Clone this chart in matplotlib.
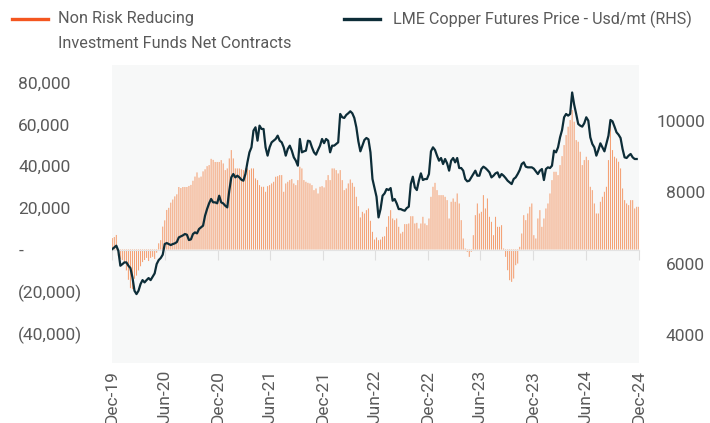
import numpy as np
import pandas as pd
import matplotlib
matplotlib.use("Agg")
import matplotlib.pyplot as plt
from matplotlib.lines import Line2D
from matplotlib.ticker import FuncFormatter

plt.rcParams['font.family'] = ['Roboto', 'DejaVu Sans']

# Non risk reducing investment funds net contracts (weekly, from Dec-19)
net_contracts = [
    5500, 6000, 7000, -3000, -4500, -5000, -6500, -10000, -14500, -18500,
    -19000, -14000, -12500, -10000, -8000, -6000, -5000, -4000, -5500, -4000,
    -3500, -4500, -1500, 3000, 4500, 11000, 14000, 19000, 20000, 22500,
    24000, 25500, 26500, 30000, 29500, 30000, 30000, 30000, 30500, 31000,
    33000, 35000, 37000, 34500, 35000, 37500, 38500, 40000, 40500, 43500,
    43000, 42000, 42000,
    42000, 42900, 41300, 38100, 38900, 43700, 47700, 43700, 38900, 38900,
    38900, 38500, 38100, 38900, 38900, 38100, 38900, 38900, 34100, 33300,
    30900, 30100, 30100, 27700, 30400, 30900, 31700, 32500, 34900, 35200,
    35700, 35700, 27700, 31700, 32500, 33300, 33800, 31700, 30900, 33300,
    39700, 38900, 33300, 32500, 32000, 31700, 30900, 28500, 29300, 26900,
    30100,
    30400, 29800, 33300, 35700, 33300, 38900, 38900, 38100, 36500, 38100,
    33300, 28500, 29300, 31700, 33600, 32000, 30100, 25300, 20800, 15400,
    18100, 17300, 18900, 19700, 13800, 8500, 4800, 5800, 4500, 4800,
    6100, 6400, 10900, 16000, 18900, 14900, 14100, 14900, 10900, 7700,
    8500, 12200, 12200, 12500, 16000, 16000, 12500, 12800, 10100, 12500,
    15700, 12500,
    11700, 14900, 25300, 30100, 32000, 28500, 26100, 26100, 26100, 25300,
    23700, 14900, 22900, 24500, 22900, 26900, 22100, 14100, 5300, 500,
    -1100, -3500, -1100, 6900, 16500, 22100, 17300, 18100, 26100, 19700,
    24500, 15700, 13300, 6900, 15700, 10900, 10900, 11700, 500, -3500,
    -9900, -14700, -15500, -13900, -7500, -6700, 1300, 7700, 16500, 14100,
    17300, 20500,
    22100, 6900, 5300, 14900, 18900, 10900, 14900, 19700, 22100, 26900,
    33300, 37300, 37300, 35700, 40500, 44800, 50100, 54900, 58900, 62100,
    66900, 61300, 52500, 51700, 46900, 40500, 42900, 44500, 42900, 30100,
    28500, 22100, 17300, 17300, 22900, 25300, 27700, 30100, 42900, 60500,
    47700, 44500, 43700, 42100, 38900, 29300, 23700, 22100, 21300, 23700,
    23700, 19700, 20500, 20500,
]

# LME copper futures price, Usd/mt (weekly)
copper_price = [
    6412, 6459, 6506, 6366, 5945, 5990, 6039, 6039, 5945, 5880,
    5618, 5244, 5151, 5244, 5431, 5543, 5478, 5543, 5600, 5543,
    5637, 5730, 5992, 6104, 6160, 6254, 6553, 6581, 6553, 6525,
    6553, 6572, 6609, 6740, 6768, 6796, 6834, 6815, 6665, 6684,
    6834, 6880, 6852, 6974, 7021, 7068, 7348, 7535, 7694, 7816,
    7722, 7722, 7694,
    7907, 7720, 7692, 7627, 7580, 8047, 8421, 8515, 8421, 8468,
    8421, 8356, 8328, 8515, 8842, 9123, 9263, 9731, 9824, 9450,
    9871, 9778, 9778, 9263, 9030, 9263, 9403, 9450, 9497, 9590,
    9450, 9403, 9263, 9030, 9216, 9310, 9170, 8983, 8889, 8749,
    9497, 9123, 9151, 9170, 9450, 9431, 9263, 9123, 9058, 9189,
    9310,
    9497, 9380, 9497, 9450, 9123, 9310, 9310, 9357, 9403, 10198,
    10105, 10086, 10170, 10217, 10273, 10217, 10086, 9824, 9431, 9151,
    9310, 9469, 9525, 9487, 9123, 8375, 8122, 7879, 7300, 7533,
    7907, 7972, 8094, 8066, 8122, 7767, 7814, 7692, 7533, 7533,
    7505, 7487, 7561, 7599, 8234, 8440, 8141, 8066, 8328, 8534,
    8347, 8375,
    8375, 8515, 9151, 9263, 9189, 9030, 8889, 8964, 8795, 8936,
    8814, 8609, 8889, 8964, 8842, 8964, 8683, 8683, 8609, 8375,
    8310, 8328, 8421, 8515, 8609, 8468, 8468, 8655, 8721, 8683,
    8627, 8562, 8421, 8468, 8534, 8562, 8421, 8515, 8468, 8403,
    8328, 8281, 8234, 8375, 8421, 8515, 8627, 8795, 8842, 8721,
    8702, 8702,
    8702, 8665, 8590, 8515, 8609, 8655, 8347, 8655, 8702, 8683,
    8749, 9170, 9123, 9263, 9544, 9749, 10105, 10198, 10151, 10198,
    10800, 10460, 10198, 9918, 9871, 9843, 9937, 10105, 10011, 9544,
    9357, 9263, 9030, 9189, 9375, 9263, 9151, 9375, 9590, 10030,
    9992, 9843, 9684, 9618, 9525, 9216, 8983, 8964, 9030, 9077,
    8983, 8936, 8936,
]

weeks = pd.date_range('2019-12-31', periods=len(net_contracts), freq='7D')
price_weeks = weeks[:len(copper_price)]
tick_dates = pd.date_range('2019-12-31', '2024-12-31', freq='6ME')
tick_labels = [d.strftime('%b-%y') for d in tick_dates]

orange = '#f4561f'
bar_col = '#f4a073'
navy = '#0d2d38'
grey_txt = '#5a5a5a'

fig = plt.figure(figsize=(7.1, 4.23), dpi=100)
ax = fig.add_axes([112/710, 1-363/423, 527/710, 298/423])
ax.set_facecolor('#f7f8f8')

ax.bar(weeks, net_contracts, width=3.6, color=bar_col, linewidth=0,
       snap=False, antialiased=True)
ax.set_ylim(-54400, 88500)
ax.set_yticks([-40000, -20000, 0, 20000, 40000, 60000, 80000])

def fmt(v, pos):
    if v == 0:
        return '-'
    if v < 0:
        return '({:,.0f})'.format(abs(v))
    return '{:,.0f}'.format(v)
ax.yaxis.set_major_formatter(FuncFormatter(fmt))
ax.tick_params(axis='y', length=0, pad=67.5, labelsize=12.5, labelcolor=grey_txt)
for t in ax.get_yticklabels():
    t.set_ha('left')

for s in ['top', 'left', 'right']:
    ax.spines[s].set_visible(False)
ax.spines['bottom'].set_position(('data', 0))
ax.spines['bottom'].set_color('#e3e3e3')
ax.set_xticks(tick_dates)
ax.tick_params(axis='x', direction='out', length=7, color='#dedede',
               labelbottom=False)
ax.set_xlim(pd.Timestamp('2019-12-30'), pd.Timestamp('2025-01-01'))

sec = ax.secondary_xaxis('bottom')
sec.set_xticks(tick_dates, tick_labels)
sec.tick_params(length=0, pad=5, labelsize=12.5, labelcolor=grey_txt,
                labelrotation=90)
sec.spines['bottom'].set_visible(False)

ax2 = ax.twinx()
ax2.plot(price_weeks, copper_price, color=navy, lw=1.6)
ax2.set_ylim(3220, 11570)
ax2.set_yticks([4000, 6000, 8000, 10000])
ax2.tick_params(axis='y', length=0, pad=47.5, labelsize=12.5, labelcolor=grey_txt)
for t in ax2.get_yticklabels():
    t.set_ha('right')
for s in ax2.spines.values():
    s.set_visible(False)

# legend drawn by hand at top
fig.add_artist(Line2D([12/710, 48/710], [1-19/423, 1-19/423],
                      transform=fig.transFigure, color=orange, lw=2.4))
fig.text(58/710, 1-19/423, 'Non Risk Reducing', va='center', ha='left',
         fontsize=11.7, color=grey_txt)
fig.text(58/710, 1-43/423, 'Investment Funds Net Contracts', va='center',
         ha='left', fontsize=11.7, color=grey_txt)
fig.add_artist(Line2D([344/710, 380/710], [1-19/423, 1-19/423],
                      transform=fig.transFigure, color=navy, lw=2.4))
fig.text(393/710, 1-19/423, 'LME Copper Futures Price - Usd/mt (RHS)',
         va='center', ha='left', fontsize=11.6, color=grey_txt)

fig.savefig('out.png', dpi=100)
